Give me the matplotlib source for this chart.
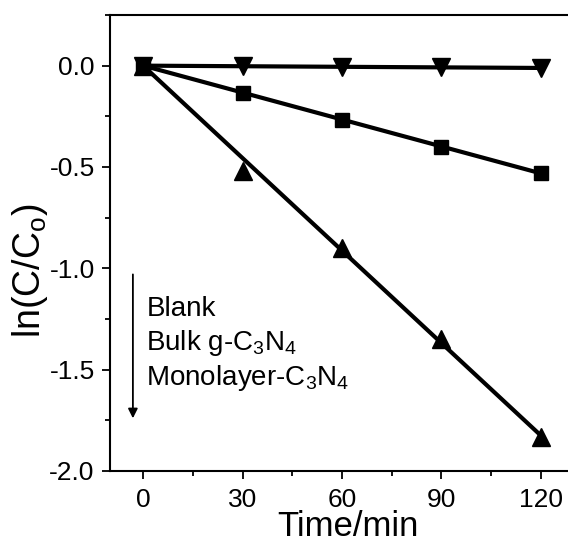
import matplotlib
matplotlib.use("Agg")
import matplotlib.pyplot as plt
import numpy as np
from matplotlib.ticker import MultipleLocator

plt.rcParams["font.family"] = ["Liberation Sans", "DejaVu Sans"]
plt.rcParams["mathtext.default"] = "regular"

time_min = np.array([0, 30, 60, 90, 120])
blank = np.array([0.0, -0.003, -0.005, -0.008, -0.012])
bulk = np.array([0.0, -0.135, -0.27, -0.40, -0.528])
monolayer = np.array([0.0, -0.52, -0.90, -1.35, -1.83])

series = [
    (blank, "v", 12.5),
    (bulk, "s", 9.5),
    (monolayer, "^", 12.5),
]
labels = ["Blank", r"Bulk g-C$_3$N$_4$", r"Monolayer-C$_3$N$_4$"]

fig = plt.figure(figsize=(5.68, 5.43), dpi=100)
ax = fig.add_axes([0.1937, 0.1326, 0.817, 0.8398])

fit_x = np.array([0, 120])
for values, marker, size in series:
    # linear fit through the origin
    k = np.sum(time_min * values) / np.sum(time_min ** 2)
    ax.plot(fit_x, k * fit_x, color="black", linewidth=3.0, zorder=2)
    ax.plot(time_min, values, linestyle="none", marker=marker,
            markersize=size, color="black", zorder=3)

ax.annotate("", xy=(-3.1, -1.74), xytext=(-3.1, -1.03),
            arrowprops=dict(arrowstyle="-|>", color="black", lw=1.3,
                            mutation_scale=14, shrinkA=0, shrinkB=0))
for y, text in zip([-1.20, -1.366, -1.54], labels):
    ax.text(1.0, y, text, fontsize=20, va="center", ha="left")

ax.set_xlim(-10, 130)
ax.set_ylim(-2.0, 0.25)
ax.set_xticks([0, 30, 60, 90, 120])
ax.set_yticks([-2.0, -1.5, -1.0, -0.5, 0.0])
ax.set_yticklabels(["-2.0", "-1.5", "-1.0", "-0.5", "0.0"])
ax.xaxis.set_minor_locator(MultipleLocator(15))
ax.yaxis.set_minor_locator(MultipleLocator(0.25))
ax.tick_params(which="major", direction="out", length=6, width=1.3,
               labelsize=19, pad=5)
ax.tick_params(axis="x", which="major", pad=6)
ax.tick_params(which="minor", direction="out", length=3.5, width=1.3)
ax.tick_params(top=False, right=False)
for spine in ax.spines.values():
    spine.set_linewidth(1.5)

ax.set_xlabel("Time/min", fontsize=25)
ax.xaxis.set_label_coords(0.513, -0.086)
ax.set_ylabel(r"ln(C/C$_o$)", fontsize=27)
ax.yaxis.set_label_coords(-0.13, 0.439)

fig.savefig("out.png", dpi=100)
